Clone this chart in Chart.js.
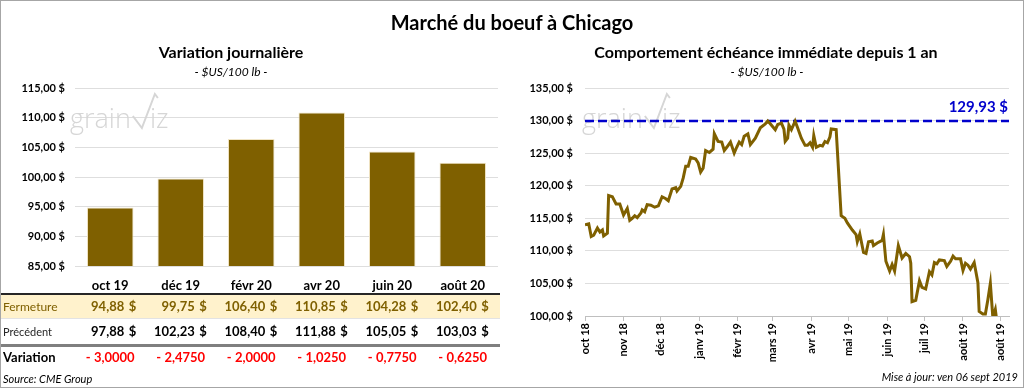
<!DOCTYPE html>
<html lang="fr">
<head>
<meta charset="utf-8">
<title>Marché du boeuf à Chicago</title>
<script src="https://cdn.jsdelivr.net/npm/chart.js@4.4.1/dist/chart.umd.min.js"></script>
<style>
  body { margin: 0; background: #fff; font-family: Lato, sans-serif; }
  #wrap { position: relative; width: 1024px; height: 388px; overflow: hidden; background: #fff; }
  #frame { position: absolute; left: 0; top: 0; width: 1024px; height: 388px; box-sizing: border-box; border: 1px solid #a6a6a6; pointer-events: none; }
  canvas { position: absolute; top: 0; }
  #leftChart { left: 0; }
  #rightChart { left: 512px; }
  .txt { position: absolute; color: #000; white-space: nowrap; }
  .title { font-weight: bold; font-size: 20px; line-height: 24px; text-align: center; }
  .sub { font-weight: bold; font-size: 16px; line-height: 20px; text-align: center; }
  .unit { font-style: italic; font-size: 12px; line-height: 16px; text-align: center; }
  .foot { font-style: italic; font-size: 11px; line-height: 16px; }
</style>
</head>
<body>
<div id="wrap">
  <canvas id="leftChart" width="500" height="388"></canvas>
  <canvas id="rightChart" width="512" height="388"></canvas>

  <div class="txt title" style="left:0; top:10px; width:1024px;">Marché du boeuf à Chicago</div>
  <div class="txt sub" style="left:0; top:42px; width:462px;">Variation journalière</div>
  <div class="txt unit" style="left:0; top:64px; width:462px;">- $US/100 lb -</div>
  <div class="txt sub" style="left:512px; top:42px; width:508px;">Comportement échéance immédiate depuis 1 an</div>
  <div class="txt unit" style="left:512px; top:64px; width:510px;">- $US/100 lb -</div>
  <div class="txt foot" style="left:3px; top:371px;">Source: CME Group</div>
  <div class="txt foot" style="right:6px; top:369px;">Mise à jour: ven 06 sept 2019</div>
  <div id="frame"></div>
</div>

<script>
// Contrats à terme (graphique de gauche)
const contracts = ['oct 19', 'déc 19', 'févr 20', 'avr 20', 'juin 20', 'août 20'];
const closes = [94.88, 99.75, 106.40, 110.85, 104.28, 102.40];
const previous = [97.88, 102.23, 108.40, 111.88, 105.05, 103.03];
const changes = [-3.0, -2.475, -2.0, -1.025, -0.775, -0.625];

// Échéance immédiate, jours depuis le 1er oct 2018 (graphique de droite)
const tradeDays = [0, 3, 5, 7, 10, 12, 14, 15, 18, 19, 22, 25, 28, 31, 34, 36, 38, 40, 42, 45,
  46, 48, 50, 53, 56, 59, 62, 65, 67, 70, 73, 74, 77, 79, 81, 83, 85, 89, 91, 93,
  95, 97, 100, 103, 104, 107, 110, 112, 114, 117, 120, 122, 124, 126, 128, 131, 133, 137, 141, 145,
  147, 149, 153, 155, 158, 160, 161, 163, 164, 166, 169, 171, 174, 177, 179, 181, 183, 184, 186, 189,
  191, 193, 195, 197, 198, 202, 206, 209, 211, 215, 218, 219, 221, 224, 226, 228, 231, 232, 235, 239,
  240, 242, 245, 247, 249, 252, 255, 258, 261, 262, 263, 266, 269, 271, 274, 277, 279, 281, 283, 285,
  289, 291, 294, 296, 298, 302, 304, 306, 308, 310, 313, 316, 317, 320, 322, 324, 326, 328, 330, 331];
const nearbyPrices = [114.0, 114.15, 112.2, 112.4, 113.5, 112.9, 113.2, 112.3, 112.7, 118.5, 118.3, 117.2, 117.2, 115.5, 116.5, 114.7, 115.0, 115.4, 115.1, 115.8,
  116.3, 116.0, 117.1, 117.0, 116.7, 116.9, 118.3, 118.0, 117.7, 119.5, 119.7, 119.2, 119.9, 121.2, 123.0, 123.0, 124.35, 124.1, 123.5, 122.1,
  122.7, 125.4, 125.1, 125.6, 128.0, 126.8, 126.7, 125.4, 125.9, 126.7, 125.0, 125.9, 126.7, 126.3, 127.6, 127.95, 126.3, 127.3, 128.9, 129.5,
  129.93, 129.5, 128.6, 129.4, 129.6, 128.7, 126.8, 127.3, 129.3, 128.6, 129.9, 128.9, 127.3, 126.2, 126.2, 126.6, 125.9, 127.7, 125.9, 126.2,
  126.1, 126.8, 126.6, 127.5, 128.7, 128.6, 115.4, 115.0, 114.3, 113.2, 112.5, 111.4, 112.6, 109.75, 109.6, 111.4, 111.5, 110.8, 111.2, 111.6,
  112.5, 108.4, 106.9, 107.9, 106.9, 110.8, 108.9, 109.6, 109.1, 108.1, 102.2, 102.4, 105.4, 104.4, 104.15, 106.8, 106.3, 108.2, 108.0, 108.6,
  108.5, 107.6, 108.4, 109.2, 108.8, 108.8, 107.0, 108.1, 107.8, 107.2, 108.2, 105.1, 100.7, 100.3, 100.3, 102.5, 105.0, 99.8, 101.0, 99.5];
const yearHigh = 129.93;
const monthTicks = [0, 31, 61, 92, 123, 151, 182, 212, 243, 273, 304, 334];
const monthLabels = ['oct 18', 'nov 18', 'déc 18', 'janv 19', 'févr 19', 'mars 19', 'avr 19', 'mai 19', 'juin 19', 'juil 19', 'août 19', 'août 19'];

const BROWN = '#7f6000';

Chart.defaults.font.family = 'Lato, sans-serif';
Chart.defaults.color = '#000';
Chart.defaults.animation = false;

function money(v) {
    return v.toFixed(2).replace('.', ',') + ' $';
}

function num(v) {
    return v.toFixed(2).replace('.', ',');
}

function change(v) {
    return (v < 0 ? '- ' : '+ ') + Math.abs(v).toFixed(4).replace('.', ',');
}

// Filigrane "grainViz"
const watermarkPlugin = {
    id: 'watermark',
    beforeDatasetsDraw(chart, args, opts) {
        const ctx = chart.ctx;
        const x = opts.x, y = opts.y;
        ctx.save();
        ctx.fillStyle = '#d6d6d6';
        ctx.strokeStyle = '#d6d6d6';
        ctx.font = '300 27px "Open Sans"';
        ctx.textBaseline = 'alphabetic';
        ctx.textAlign = 'left';
        ctx.fillText('grain', x, y);
        const w = ctx.measureText('grain').width;
        ctx.lineWidth = 2;
        ctx.beginPath();
        ctx.moveTo(x + w + 2, y - 12);
        ctx.lineTo(x + w + 11, y);
        ctx.lineTo(x + w + 24, y - 34);
        ctx.lineTo(x + w + 27, y - 30);
        ctx.stroke();
        ctx.fillText('iz', x + w + 19, y);
        ctx.restore();
    }
};

// Tableau sous le graphique à barres
const tablePlugin = {
    id: 'table',
    beforeDraw(chart) {
        const ctx = chart.ctx;
        ctx.save();
        ctx.fillStyle = '#fff2cc';
        ctx.fillRect(0, 295, 500, 23);
        ctx.restore();
    },
    afterDraw(chart) {
        const ctx = chart.ctx;
        const xs = chart.scales.x;
        ctx.save();

        ctx.strokeStyle = '#262626';
        ctx.lineWidth = 2;
        ctx.beginPath(); ctx.moveTo(0, 294); ctx.lineTo(500, 294); ctx.stroke();
        ctx.strokeStyle = '#e3e3e3';
        ctx.lineWidth = 1;
        ctx.beginPath(); ctx.moveTo(0, 318.5); ctx.lineTo(500, 318.5); ctx.stroke();
        ctx.strokeStyle = '#7f7f7f';
        ctx.lineWidth = 3;
        ctx.beginPath(); ctx.moveTo(0, 345.5); ctx.lineTo(500, 345.5); ctx.stroke();

        ctx.textBaseline = 'middle';
        ctx.textAlign = 'left';
        ctx.font = '12px Lato';
        ctx.fillStyle = BROWN;
        ctx.fillText('Fermeture', 3, 307);
        ctx.font = '11px Lato';
        ctx.fillStyle = '#262626';
        ctx.fillText('Précédent', 3, 332);
        ctx.font = 'bold 13px Lato';
        ctx.fillStyle = '#000';
        ctx.fillText('Variation', 3, 358);

        contracts.forEach((lab, i) => {
            const cx = xs.getPixelForValue(i);
            ctx.font = 'bold 13px Lato';
            ctx.textAlign = 'center';
            ctx.fillStyle = '#000';
            ctx.fillText(lab, cx, 286);

            ctx.textAlign = 'right';
            ctx.fillStyle = BROWN;
            ctx.fillText(num(closes[i]), cx + 14, 307);
            ctx.fillText('$', cx + 26, 307);

            ctx.fillStyle = '#000';
            ctx.fillText(num(previous[i]), cx + 14, 332);
            ctx.fillText('$', cx + 26, 332);

            ctx.textAlign = 'center';
            ctx.fillStyle = '#ff0000';
            ctx.fillText(change(changes[i]), cx, 358);
        });
        ctx.restore();
    }
};

// Étiquette du sommet annuel
const highLabelPlugin = {
    id: 'highLabel',
    afterDatasetsDraw(chart) {
        const ctx = chart.ctx;
        const y = chart.scales.y.getPixelForValue(yearHigh);
        ctx.save();
        ctx.font = 'bold 15px Lato';
        ctx.fillStyle = '#0000cc';
        ctx.textAlign = 'right';
        ctx.textBaseline = 'alphabetic';
        ctx.fillText(money(yearHigh), chart.chartArea.right - 1, y - 9);
        ctx.restore();
    }
};

new Chart(document.getElementById('leftChart'), {
    type: 'bar',
    data: {
        labels: contracts,
        datasets: [{
            data: closes,
            backgroundColor: BROWN,
            borderColor: '#f0e4c4',
            borderWidth: 1,
            categoryPercentage: 1,
            barPercentage: 0.66
        }]
    },
    options: {
        responsive: false,
        layout: { padding: { top: 88, bottom: 122, left: 0, right: 2 } },
        plugins: {
            legend: { display: false },
            tooltip: { enabled: false },
            watermark: { x: 70, y: 128 }
        },
        scales: {
            x: { display: false },
            y: {
                min: 85,
                max: 115,
                afterFit: s => { s.width = 75; },
                ticks: {
                    stepSize: 5,
                    padding: 10,
                    font: { weight: 'bold', size: 11 },
                    callback: v => money(v)
                },
                grid: { color: '#dedede', drawTicks: false },
                border: { display: false }
            }
        }
    },
    plugins: [watermarkPlugin, tablePlugin]
});

new Chart(document.getElementById('rightChart'), {
    type: 'line',
    data: {
        datasets: [{
            data: tradeDays.map((d, i) => ({ x: d, y: nearbyPrices[i] })),
            borderColor: BROWN,
            borderWidth: 3,
            pointRadius: 0,
            tension: 0
        }, {
            data: [{ x: 0, y: yearHigh }, { x: 341, y: yearHigh }],
            borderColor: '#0000cc',
            borderWidth: 2.5,
            borderDash: [9, 4],
            pointRadius: 0
        }]
    },
    options: {
        responsive: false,
        layout: { padding: { top: 88, bottom: 0, left: 0, right: 15 } },
        plugins: {
            legend: { display: false },
            tooltip: { enabled: false },
            watermark: { x: 70, y: 128 }
        },
        scales: {
            x: {
                type: 'linear',
                min: 0,
                max: 341,
                afterFit: s => { s.height = 72; },
                afterBuildTicks: s => { s.ticks = monthTicks.map(v => ({ value: v })); },
                ticks: {
                    autoSkip: false,
                    minRotation: 90,
                    maxRotation: 90,
                    padding: 2,
                    font: { weight: 'bold', size: 11 },
                    callback: (v, i) => monthLabels[i]
                },
                grid: { drawOnChartArea: false, drawTicks: true, tickLength: 5, color: '#bfbfbf' },
                border: { display: true, color: '#bfbfbf' }
            },
            y: {
                min: 100,
                max: 135,
                afterFit: s => { s.width = 73; },
                ticks: {
                    stepSize: 5,
                    padding: 12,
                    font: { weight: 'bold', size: 11 },
                    callback: v => money(v)
                },
                grid: { color: '#dedede', drawTicks: false },
                border: { display: false }
            }
        }
    },
    plugins: [watermarkPlugin, highLabelPlugin]
});
</script>
</body>
</html>
